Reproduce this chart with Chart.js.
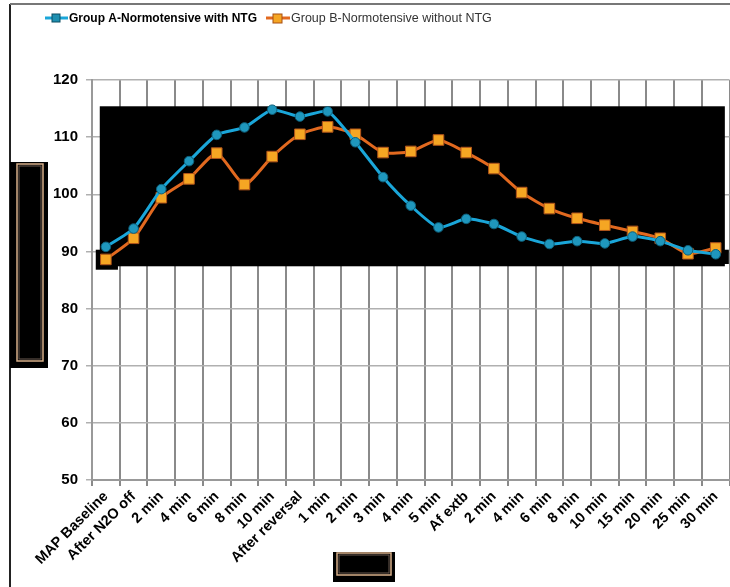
<!DOCTYPE html>
<html>
<head>
<meta charset="utf-8">
<script src="https://cdn.jsdelivr.net/npm/chart.js@4.4.1/dist/chart.umd.min.js"></script>
<style>
  html, body { margin: 0; padding: 0; background: #fff; }
  #wrap { width: 730px; height: 587px; }
</style>
</head>
<body>
<div id="wrap"><canvas id="mapChart" width="730" height="587"></canvas></div>
<script>
// time points
var categories = ['MAP Baseline', 'After N2O off', '2 min', '4 min', '6 min', '8 min', '10 min',
    'After reversal', '1 min', '2 min', '3 min', '4 min', '5 min', 'Af extb', '2 min', '4 min',
    '6 min', '8 min', '10 min', '15 min', '20 min', '25 min', '30 min'];

// mean arterial pressure, mmHg
var groupA = [90.8, 94.0, 100.9, 105.8, 110.4, 111.7, 114.8, 113.6, 114.5, 109.1, 103.0, 98.0,
    94.2, 95.7, 94.8, 92.6, 91.3, 91.8, 91.4, 92.6, 91.8, 90.2, 89.5];
var groupB = [88.6, 92.3, 99.4, 102.7, 107.2, 101.7, 106.6, 110.5, 111.8, 110.5, 107.3, 107.5,
    109.5, 107.3, 104.5, 100.3, 97.5, 95.8, 94.6, 93.5, 92.3, 89.6, 90.6];

var yTicks = [50, 60, 70, 80, 90, 100, 110, 120];

var labelA = 'Group A-Normotensive with NTG';
var labelB = 'Group B-Normotensive without NTG';

// black block behind the lines, and the empty axis title boxes
var backdrop = {
    id: 'backdrop',
    beforeDatasetsDraw: function(chart) {
        var ctx = chart.ctx;
        var x = chart.scales.x, y = chart.scales.y;
        var step = x.getPixelForValue(1) - x.getPixelForValue(0);
        var left = x.getPixelForValue(0) - step * 0.22;
        var right = x.getPixelForValue(categories.length - 1) + step * 0.33;
        var top = y.getPixelForValue(115.4);
        var bottom = y.getPixelForValue(87.4);
        ctx.save();
        ctx.fillStyle = '#000';
        ctx.fillRect(left, top, right - left, bottom - top);
        ctx.fillRect(left - 4, y.getPixelForValue(90.3), step * 0.8, y.getPixelForValue(86.8) - y.getPixelForValue(90.3));
        ctx.fillRect(right - 4, y.getPixelForValue(90.3), 8, y.getPixelForValue(87.8) - y.getPixelForValue(90.3));
        ctx.restore();
    },
    afterDraw: function(chart) {
        var ctx = chart.ctx;
        ctx.save();
        // outer frame
        ctx.strokeStyle = '#222';
        ctx.lineWidth = 2;
        ctx.beginPath();
        ctx.moveTo(10, 587);
        ctx.lineTo(10, 4);
        ctx.stroke();
        ctx.strokeStyle = '#777';
        ctx.beginPath();
        ctx.moveTo(10, 4);
        ctx.lineTo(730, 4);
        ctx.stroke();

        function titleBox(x, y, w, h, ix, iy, iw, ih) {
            ctx.fillStyle = '#000';
            ctx.fillRect(x, y, w, h);
            ctx.strokeStyle = '#d8b08a';
            ctx.lineWidth = 1.5;
            ctx.strokeRect(ix, iy, iw, ih);
            ctx.strokeStyle = '#6a5a50';
            ctx.lineWidth = 1;
            ctx.strokeRect(ix + 2, iy + 2, iw - 4, ih - 4);
        }
        titleBox(10, 162, 38, 206, 17, 164, 26, 197);
        titleBox(333, 552, 62, 30, 337, 553, 54, 22);

        // legend
        ctx.textBaseline = 'middle';
        ctx.strokeStyle = '#1aa6d9';
        ctx.lineWidth = 3;
        ctx.beginPath(); ctx.moveTo(45, 18); ctx.lineTo(68, 18); ctx.stroke();
        ctx.fillStyle = '#1e8fb0';
        ctx.strokeStyle = '#0b4d63';
        ctx.lineWidth = 1;
        ctx.fillRect(52, 14, 8, 8); ctx.strokeRect(52, 14, 8, 8);
        ctx.font = 'bold 12px "Liberation Sans", Arial, sans-serif';
        ctx.fillStyle = '#000';
        ctx.fillText(labelA, 69, 19);

        ctx.strokeStyle = '#e2691f';
        ctx.lineWidth = 3;
        ctx.beginPath(); ctx.moveTo(266, 18); ctx.lineTo(290, 18); ctx.stroke();
        ctx.fillStyle = '#f5a623';
        ctx.strokeStyle = '#a84e12';
        ctx.lineWidth = 1;
        ctx.fillRect(273, 14, 9, 9); ctx.strokeRect(273, 14, 9, 9);
        ctx.font = '12.5px "Liberation Sans", Arial, sans-serif';
        ctx.fillStyle = '#333';
        ctx.fillText(labelB, 291, 19);
        ctx.restore();
    }
};

new Chart(document.getElementById('mapChart'), {
    type: 'line',
    data: {
        labels: categories,
        datasets: [
            {
                label: labelA,
                data: groupA,
                borderColor: '#1aa6d9',
                borderWidth: 3,
                pointStyle: 'circle',
                pointRadius: 4.8,
                pointBackgroundColor: '#1f97bd',
                pointBorderColor: '#0d5f7a',
                pointBorderWidth: 1,
                tension: 0.2
            },
            {
                label: labelB,
                data: groupB,
                borderColor: '#e2691f',
                borderWidth: 3,
                pointStyle: 'rect',
                pointRadius: 7.5,
                pointBackgroundColor: '#f5a623',
                pointBorderColor: '#b0531a',
                pointBorderWidth: 1,
                tension: 0.2
            }
        ]
    },
    plugins: [backdrop],
    options: {
        responsive: false,
        animation: false,
        layout: { autoPadding: false, padding: { top: 80, right: 0, left: 0, bottom: 0 } },
        plugins: {
            legend: { display: false },
            tooltip: { enabled: false }
        },
        scales: {
            x: {
                offset: true,
                afterFit: function(scale) { scale.height = 107; },
                grid: {
                    offset: true,
                    color: '#8a8a8a',
                    lineWidth: 2,
                    tickLength: 6
                },
                border: { color: '#999', width: 2 },
                ticks: {
                    color: '#000',
                    autoSkip: false,
                    maxRotation: 45,
                    minRotation: 45,
                    padding: 2,
                    font: { family: '"Liberation Sans", Arial, sans-serif', size: 14.5, weight: 'bold' }
                }
            },
            y: {
                min: 50,
                max: 120,
                afterFit: function(scale) { scale.width = 92; },
                afterBuildTicks: function(scale) {
                    scale.ticks = yTicks.map(function(v) { return { value: v }; });
                },
                grid: {
                    color: '#b0b0b0',
                    lineWidth: 1.5,
                    tickLength: 6
                },
                border: { color: '#999', width: 2 },
                ticks: {
                    color: '#000',
                    padding: 8,
                    font: { family: '"Liberation Sans", Arial, sans-serif', size: 15, weight: 'bold' }
                }
            }
        }
    }
});
</script>
</body>
</html>
